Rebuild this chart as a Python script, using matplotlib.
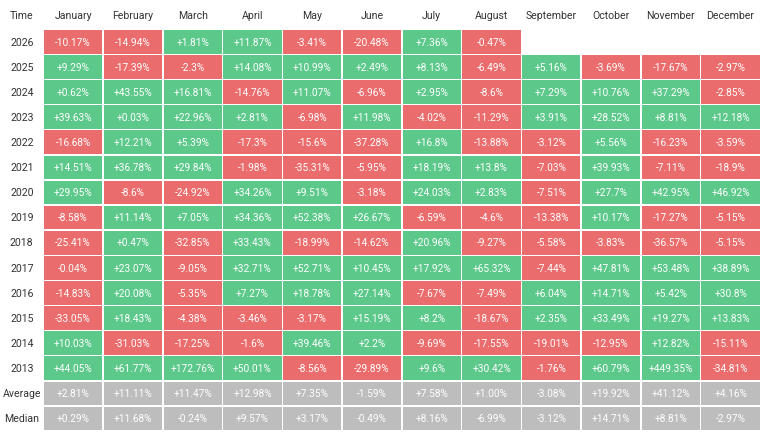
import matplotlib
matplotlib.use("Agg")
import matplotlib.pyplot as plt
from matplotlib.patches import Rectangle

months = ["January", "February", "March", "April", "May", "June", "July",
          "August", "September", "October", "November", "December"]
years = ["2026", "2025", "2024", "2023", "2022", "2021", "2020", "2019",
         "2018", "2017", "2016", "2015", "2014", "2013"]
summary_labels = ["Average", "Median"]

r2026 = [-10.17, -14.94, 1.81, 11.87, -3.41, -20.48, 7.36, -0.47, None, None, None, None]
r2025 = [9.29, -17.39, -2.3, 14.08, 10.99, 2.49, 8.13, -6.49, 5.16, -3.69, -17.67, -2.97]
r2024 = [0.62, 43.55, 16.81, -14.76, 11.07, -6.96, 2.95, -8.6, 7.29, 10.76, 37.29, -2.85]
r2023 = [39.63, 0.03, 22.96, 2.81, -6.98, 11.98, -4.02, -11.29, 3.91, 28.52, 8.81, 12.18]
r2022 = [-16.68, 12.21, 5.39, -17.3, -15.6, -37.28, 16.8, -13.88, -3.12, 5.56, -16.23, -3.59]
r2021 = [14.51, 36.78, 29.84, -1.98, -35.31, -5.95, 18.19, 13.8, -7.03, 39.93, -7.11, -18.9]
r2020 = [29.95, -8.6, -24.92, 34.26, 9.51, -3.18, 24.03, 2.83, -7.51, 27.7, 42.95, 46.92]
r2019 = [-8.58, 11.14, 7.05, 34.36, 52.38, 26.67, -6.59, -4.6, -13.38, 10.17, -17.27, -5.15]
r2018 = [-25.41, 0.47, -32.85, 33.43, -18.99, -14.62, 20.96, -9.27, -5.58, -3.83, -36.57, -5.15]
r2017 = [-0.04, 23.07, -9.05, 32.71, 52.71, 10.45, 17.92, 65.32, -7.44, 47.81, 53.48, 38.89]
r2016 = [-14.83, 20.08, -5.35, 7.27, 18.78, 27.14, -7.67, -7.49, 6.04, 14.71, 5.42, 30.8]
r2015 = [-33.05, 18.43, -4.38, -3.46, -3.17, 15.19, 8.2, -18.67, 2.35, 33.49, 19.27, 13.83]
r2014 = [10.03, -31.03, -17.25, -1.6, 39.46, 2.2, -9.69, -17.55, -19.01, -12.95, 12.82, -15.11]
r2013 = [44.05, 61.77, 172.76, 50.01, -8.56, -29.89, 9.6, 30.42, -1.76, 60.79, 449.35, -34.81]

average_labels = ["+2.81%", "+11.11%", "+11.47%", "+12.98%", "+7.35%", "-1.59%",
                  "+7.58%", "+1.00%", "-3.08%", "+19.92%", "+41.12%", "+4.16%"]
median_labels = ["+0.29%", "+11.68%", "-0.24%", "+9.57%", "+3.17%", "-0.49%",
                 "+8.16%", "-6.99%", "-3.12%", "+14.71%", "+8.81%", "-2.97%"]

year_rows = [r2026, r2025, r2024, r2023, r2022, r2021, r2020, r2019,
             r2018, r2017, r2016, r2015, r2014, r2013]

GREEN = "#5cc98b"
RED = "#ea6c6c"
GRAY = "#bdbdbd"
FONT = ["Roboto", "DejaVu Sans"]

W, H = 775, 440
fig = plt.figure(figsize=(W / 100, H / 100), dpi=100)
x0, x1 = 43.3, 760.5
y0, y1 = 29.3, 431.0
ax = fig.add_axes([x0 / W, 1 - y1 / H, (x1 - x0) / W, (y1 - y0) / H])
nrows = len(years) + len(summary_labels)
ax.set_xlim(0, 12)
ax.set_ylim(nrows, 0)
ax.axis("off")

gx = 0.75 / ((x1 - x0) / 12)
gy = 0.75 / ((y1 - y0) / nrows)

def fmt(v):
    s = f"{v:.2f}".rstrip("0").rstrip(".")
    return ("+" if v >= 0 else "") + s + "%"

def cell(j, i, color, label):
    ax.add_patch(Rectangle((j + gx, i + gy), 1 - 2 * gx, 1 - 2 * gy,
                           facecolor=color, edgecolor="none"))
    ax.text(j + 0.5, i + 0.53, label, ha="center", va="center", color="white",
            fontsize=7.3, family=FONT)

for i, row in enumerate(year_rows):
    for j, v in enumerate(row):
        if v is None:
            continue
        cell(j, i, GREEN if v >= 0 else RED, fmt(v))

for k, labs in enumerate([average_labels, median_labels]):
    i = len(years) + k
    for j, lab in enumerate(labs):
        cell(j, i, GRAY, lab)

row_labels = years + summary_labels
for i, lab in enumerate(row_labels):
    ax.text(-0.36, i + 0.53, lab, ha="center", va="center", color="#333333",
            fontsize=7.6, family=FONT, clip_on=False)

ax.text(-0.36, -0.53, "Time", ha="center", va="center", color="#333333",
        fontsize=7.6, family=FONT, clip_on=False)
for j, m in enumerate(months):
    ax.text(j + 0.5, -0.53, m, ha="center", va="center", color="#333333",
            fontsize=7.6, family=FONT, clip_on=False)

fig.savefig("out.png", dpi=100, facecolor="white")
